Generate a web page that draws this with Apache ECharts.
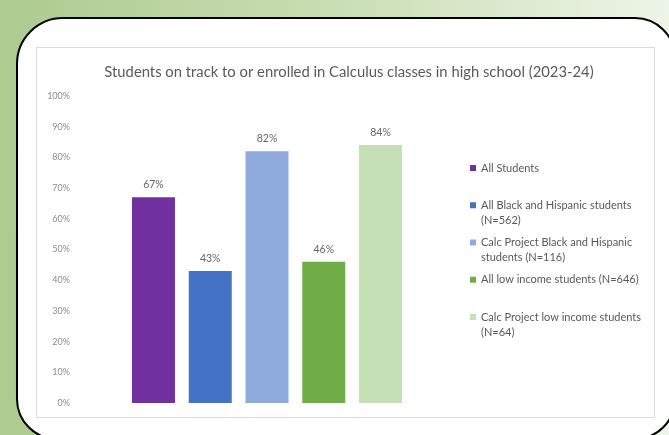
<!DOCTYPE html>
<html>
<head>
<meta charset="utf-8">
<script src="https://cdn.jsdelivr.net/npm/echarts@6/dist/echarts.min.js"></script>
<style>
  html, body { margin: 0; padding: 0; }
  #chart { width: 669px; height: 435px; }
</style>
</head>
<body>
<div id="chart"></div>
<script>
// Share of students on track to / enrolled in Calculus, 2023-24
const groups = [
  'All Students',
  'All Black and Hispanic students\n(N=562)',
  'Calc Project Black and Hispanic\nstudents (N=116)',
  'All low income students (N=646)',
  'Calc Project low income students\n(N=64)'
];
const values = [67, 43, 82, 46, 84];
const colors = ['#7030a0', '#4472c4', '#8faadc', '#70ad47', '#c5e0b4'];
const yTicks = [0, 10, 20, 30, 40, 50, 60, 70, 80, 90, 100];

const FONT = 'Lato';
const LH = 15;

const chart = echarts.init(document.getElementById('chart'), null, { renderer: 'canvas' });

const series = groups.map((name, i) => ({
  name: name,
  type: 'bar',
  data: [values[i]],
  barWidth: 43,
  barGap: '32%',
  itemStyle: { color: colors[i] },
  label: {
    show: true,
    position: 'top',
    distance: 7,
    formatter: p => p.value + '%',
    color: '#666666',
    fontFamily: FONT,
    fontSize: 10.5
  }
}));

// Every legend entry is laid out as three lines with its first real line in
// the middle, so entries share one height and the marker sits on that line.
function legendText(name) {
  const lines = name.split('\n');
  return lines.length > 1 ? ' \n' + lines.join('\n') : ' \n' + name + '\n ';
}

chart.setOption({
  backgroundColor: new echarts.graphic.LinearGradient(0, 0, 1, 0, [
    { offset: 0, color: '#adca8f' },
    { offset: 0.5, color: '#c9deb3' },
    { offset: 1, color: '#eef5e8' }
  ]),
  graphic: [
    {
      type: 'rect',
      z: -10,
      shape: { x: 17, y: 18, width: 658, height: 421, r: [46, 40, 40, 40] },
      style: { fill: '#ffffff', stroke: '#000000', lineWidth: 2 }
    },
    {
      type: 'rect',
      z: -9,
      shape: { x: 36.5, y: 47.5, width: 618, height: 370 },
      style: { fill: '#ffffff', stroke: '#d9d9d9', lineWidth: 1 }
    }
  ],
  title: {
    text: 'Students on track to or enrolled in Calculus classes in high school (2023-24)',
    left: 344,
    textAlign: 'center',
    top: 60,
    textStyle: {
      color: '#595959',
      fontFamily: FONT,
      fontSize: 14.8,
      fontWeight: 'normal'
    }
  },
  legend: {
    orient: 'vertical',
    left: 465,
    top: 140.5,
    itemWidth: 6,
    itemHeight: 6,
    itemGap: -7.75,
    icon: 'rect',
    selectedMode: false,
    data: groups,
    formatter: legendText,
    textStyle: {
      color: '#595959',
      fontFamily: FONT,
      fontSize: 11,
      lineHeight: LH
    }
  },
  grid: {
    left: 78,
    right: 213,
    top: 96,
    bottom: 32,
    containLabel: false
  },
  xAxis: {
    type: 'category',
    data: [''],
    axisLine: { show: false },
    axisTick: { show: false },
    axisLabel: { show: false }
  },
  yAxis: {
    type: 'value',
    min: yTicks[0],
    max: yTicks[yTicks.length - 1],
    interval: 10,
    splitLine: { show: false },
    axisLine: { show: false },
    axisTick: { show: false },
    axisLabel: {
      formatter: v => v + '%',
      color: '#8c8c8c',
      fontFamily: FONT,
      fontSize: 9,
      margin: 8
    }
  },
  series: series
});
</script>
</body>
</html>
